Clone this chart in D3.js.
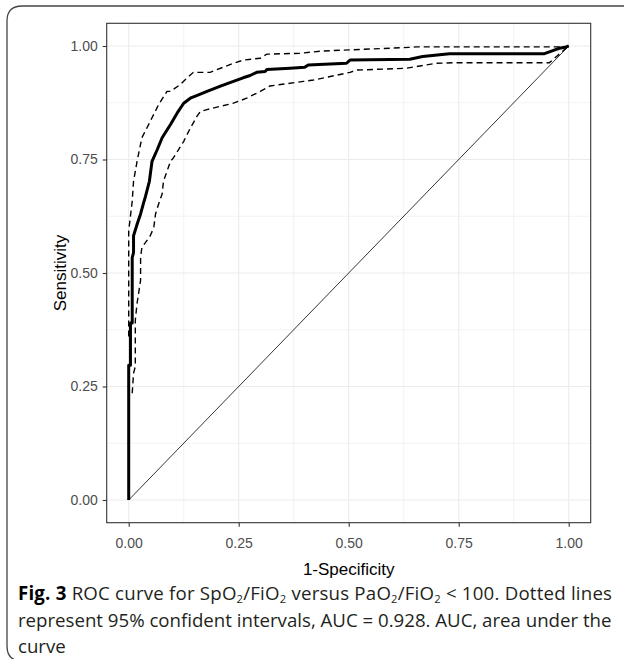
<!DOCTYPE html>
<html>
<head>
<meta charset="utf-8">
<script src="https://cdn.jsdelivr.net/npm/d3@7"></script>
<style>
  html, body { margin: 0; padding: 0; background: #fff; }
  svg { display: block; }
</style>
</head>
<body>
<svg id="chart" width="624" height="659"></svg>
<script>
// ---- data ----
const rocFpr = [0,0,0.004,0.004,0.008,0.008,0.011,0.011,0.02,0.027,0.034,0.038,0.047,0.053,0.065,0.076,0.095,0.11,0.125,0.14,0.16,0.178,0.21,0.238,0.26,0.276,0.291,0.31,0.314,0.367,0.40,0.408,0.495,0.503,0.639,0.668,0.729,0.945,0.967,0.979,0.994,1];
const rocTpr = [0,0.297,0.297,0.39,0.39,0.534,0.545,0.582,0.61,0.63,0.655,0.668,0.702,0.746,0.772,0.798,0.827,0.852,0.874,0.885,0.893,0.900,0.912,0.922,0.93,0.935,0.942,0.944,0.948,0.951,0.953,0.958,0.962,0.969,0.971,0.977,0.983,0.983,0.991,0.995,0.998,1];

const upperFpr = [0,0,0.008,0.011,0.019,0.030,0.049,0.068,0.087,0.095,0.117,0.132,0.147,0.185,0.238,0.261,0.299,0.314,0.389,0.442,0.639,0.654,0.994,1];
const upperTpr = [0.36,0.593,0.658,0.702,0.746,0.798,0.834,0.871,0.900,0.900,0.915,0.929,0.942,0.942,0.962,0.969,0.973,0.982,0.984,0.989,0.997,0.998,0.998,1];

const lowerFpr = [0.008,0.011,0.015,0.015,0.019,0.027,0.027,0.030,0.049,0.057,0.061,0.068,0.076,0.079,0.095,0.102,0.125,0.140,0.155,0.163,0.178,0.238,0.268,0.299,0.321,0.397,0.42,0.503,0.518,0.631,0.699,0.737,0.956,1];
const lowerTpr = [0.235,0.279,0.294,0.396,0.433,0.484,0.535,0.556,0.582,0.600,0.630,0.652,0.674,0.702,0.746,0.754,0.790,0.819,0.845,0.856,0.860,0.874,0.885,0.900,0.912,0.922,0.925,0.942,0.947,0.951,0.962,0.963,0.963,1];

const diagFpr = [0, 1];
const diagTpr = [0, 1];

const majorTicks = [0, 0.25, 0.5, 0.75, 1];
const minorTicks = [0.125, 0.375, 0.625, 0.875];
const tickLabels = ["0.00", "0.25", "0.50", "0.75", "1.00"];

const xTitle = "1-Specificity";
const yTitle = "Sensitivity";

const captionLines = [
  [{t:"Fig. 3", b:true}, {t:"  ROC curve for SpO"}, {t:"2", s:true}, {t:"/FiO"}, {t:"2", s:true},
   {t:" versus PaO"}, {t:"2", s:true}, {t:"/FiO"}, {t:"2", s:true}, {t:" < 100. Dotted lines"}],
  [{t:"represent 95% confident intervals, AUC = 0.928. AUC, area under the"}],
  [{t:"curve"}]
];

// ---- layout ----
const svg = d3.select("#chart");
const panel = {x0: 106.7, x1: 590.7, y0: 23.3, y1: 522.7};

const x = d3.scaleLinear().domain([-0.05, 1.05]).range([panel.x0, panel.x1]);
const y = d3.scaleLinear().domain([-0.05, 1.05]).range([panel.y1, panel.y0]);

// outer frame (rounded on the left, open on the right)
const r = 15;
svg.append("path")
  .attr("d", `M624,6 L${7 + r},6 Q7,6 7,${6 + r} L7,${661 - r} Q7,661 ${7 + r},661 L624,661`)
  .attr("fill", "none")
  .attr("stroke", "#444")
  .attr("stroke-width", 1.3);

const plot = svg.append("g");

plot.append("rect")
  .attr("x", panel.x0).attr("y", panel.y0)
  .attr("width", panel.x1 - panel.x0).attr("height", panel.y1 - panel.y0)
  .attr("fill", "#fff");

// minor grid
plot.append("g").selectAll("line").data(minorTicks).join("line")
  .attr("x1", d => x(d)).attr("x2", d => x(d))
  .attr("y1", panel.y0).attr("y2", panel.y1)
  .attr("stroke", "#EBEBEB").attr("stroke-width", 0.6);
plot.append("g").selectAll("line").data(minorTicks).join("line")
  .attr("y1", d => y(d)).attr("y2", d => y(d))
  .attr("x1", panel.x0).attr("x2", panel.x1)
  .attr("stroke", "#EBEBEB").attr("stroke-width", 0.6);
// major grid
plot.append("g").selectAll("line").data(majorTicks).join("line")
  .attr("x1", d => x(d)).attr("x2", d => x(d))
  .attr("y1", panel.y0).attr("y2", panel.y1)
  .attr("stroke", "#EBEBEB").attr("stroke-width", 1.1);
plot.append("g").selectAll("line").data(majorTicks).join("line")
  .attr("y1", d => y(d)).attr("y2", d => y(d))
  .attr("x1", panel.x0).attr("x2", panel.x1)
  .attr("stroke", "#EBEBEB").attr("stroke-width", 1.1);

// lines
const line = d3.line().x(d => x(d[0])).y(d => y(d[1]));
const zip = (a, b) => a.map((v, i) => [v, b[i]]);

svg.append("clipPath").attr("id", "pclip").append("rect")
  .attr("x", panel.x0).attr("y", panel.y0)
  .attr("width", panel.x1 - panel.x0).attr("height", panel.y1 - panel.y0);
const lines = plot.append("g").attr("clip-path", "url(#pclip)");

lines.append("path").datum(zip(diagFpr, diagTpr))
  .attr("d", line).attr("fill", "none").attr("stroke", "#000").attr("stroke-width", 0.8);
lines.append("path").datum(zip(upperFpr, upperTpr))
  .attr("d", line).attr("fill", "none").attr("stroke", "#000").attr("stroke-width", 1.4)
  .attr("stroke-dasharray", "6,4");
lines.append("path").datum(zip(lowerFpr, lowerTpr))
  .attr("d", line).attr("fill", "none").attr("stroke", "#000").attr("stroke-width", 1.4)
  .attr("stroke-dasharray", "6,4");
lines.append("path").datum(zip(rocFpr, rocTpr))
  .attr("d", line).attr("fill", "none").attr("stroke", "#000").attr("stroke-width", 3)
  .attr("stroke-linejoin", "round");

// panel border
plot.append("rect")
  .attr("x", panel.x0).attr("y", panel.y0)
  .attr("width", panel.x1 - panel.x0).attr("height", panel.y1 - panel.y0)
  .attr("fill", "none").attr("stroke", "#333").attr("stroke-width", 1.1);

// axes
const fmt = (d) => tickLabels[majorTicks.indexOf(d)];
const xAxis = d3.axisBottom(x).tickValues(majorTicks).tickFormat(fmt).tickSize(4).tickPadding(11);
const yAxis = d3.axisLeft(y).tickValues(majorTicks).tickFormat(fmt).tickSize(4).tickPadding(5);

const gx = svg.append("g").attr("transform", `translate(0,${panel.y1})`).call(xAxis);
const gy = svg.append("g").attr("transform", `translate(${panel.x0},0)`).call(yAxis);
[gx, gy].forEach(g => {
  g.select(".domain").remove();
  g.selectAll(".tick line").attr("stroke", "#333").attr("stroke-width", 1.1);
  g.selectAll(".tick text").attr("fill", "#4D4D4D")
    .style("font-family", "'Liberation Sans', Arial, Helvetica, sans-serif")
    .style("font-size", "14px");
});

// axis titles
svg.append("text")
  .attr("x", (panel.x0 + panel.x1) / 2).attr("y", 575)
  .attr("text-anchor", "middle")
  .style("font-family", "'Liberation Sans', Arial, Helvetica, sans-serif")
  .style("font-size", "17px").attr("fill", "#000")
  .text(xTitle);
svg.append("text")
  .attr("transform", `translate(66,${(panel.y0 + panel.y1) / 2}) rotate(-90)`)
  .attr("text-anchor", "middle")
  .style("font-family", "'Liberation Sans', Arial, Helvetica, sans-serif")
  .style("font-size", "17px").attr("fill", "#000")
  .text(yTitle);

// caption (condensed horizontally to mimic the journal's narrow font)
const capX = 18, capRight = 612;
const capBase = [600, 627, 653];
const capSize = 19;
const capG = svg.append("g");
const texts = captionLines.map((segs, i) => {
  const t = capG.append("text")
    .attr("x", 0).attr("y", capBase[i])
    .style("font-family", "'Open Sans', 'Noto Sans', sans-serif")
    .style("font-size", capSize + "px")
    .attr("fill", "#231F20");
  segs.forEach((s, j) => {
    const ts = t.append("tspan").text(s.t);
    if (s.b) ts.style("font-weight", "bold").attr("fill", "#000");
    if (s.s) ts.style("font-size", (capSize * 0.6) + "px").attr("dy", 3);
    else if (j > 0 && segs[j - 1].s) ts.attr("dy", -3);
  });
  return t;
});
const target = capRight - capX;
const natural2 = texts[1].node().getComputedTextLength();
const k = target / natural2;
capG.attr("transform", `translate(${capX},0) scale(${k},1)`);
texts[0].attr("textLength", target / k).attr("lengthAdjust", "spacing");
</script>
</body>
</html>
